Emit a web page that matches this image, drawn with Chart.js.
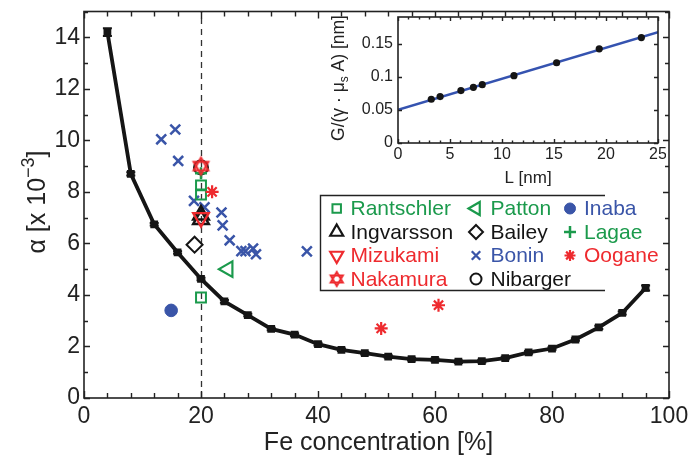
<!DOCTYPE html>
<html><head><meta charset="utf-8">
<style>
html,body{margin:0;padding:0;background:#fff;}
#wrap{position:relative;width:689px;height:457px;overflow:hidden;}
#main{position:absolute;left:0;top:0;}
#inset{position:absolute;left:320px;top:0;}
</style>
<script src="https://cdn.jsdelivr.net/npm/chart.js@4.4.1/dist/chart.umd.min.js"></script>
</head><body>
<div id="wrap"><canvas id="main" width="689" height="457"></canvas><canvas id="inset" width="346" height="195"></canvas></div>
<script>
// ---------- main plot data ----------
const feConc   = [4,8,12,16,20,24,28,32,36,40,44,48,52,56,60,64,68,72,76,80,84,88,92,96];
const alphaSim = [14.2,8.7,6.74,5.65,4.62,3.75,3.22,2.68,2.46,2.09,1.87,1.74,1.61,1.51,1.48,1.41,1.43,1.55,1.77,1.92,2.27,2.74,3.3,4.27];
const alphaErr = [0.15,0.06,0.05,0.05,0.05,0.05,0.05,0.05,0.05,0.05,0.05,0.05,0.05,0.05,0.05,0.05,0.05,0.05,0.05,0.05,0.05,0.06,0.06,0.1];

const rantschlerX = [20,20,20];        const rantschlerY = [8.25,7.9,3.9];
const pattonX     = [24.6];            const pattonY     = [5.0];
const inabaX      = [14.9];            const inabaY      = [3.4];
const ingvarssonX = [20,20];           const ingvarssonY = [7.1,6.93];
const baileyX     = [18.9];            const baileyY     = [5.95];
const lagaeX      = [20];              const lagaeY      = [8.72];
const mizukamiX   = [20];              const mizukamiY   = [7.0];
const boninX = [13.2,15.6,16.1,18.8,20.6,23.5,23.7,24.9,26.9,27.6,28.9,29.4,38.1];
const boninY = [10.04,10.42,9.2,7.65,7.4,7.2,6.7,6.12,5.7,5.7,5.8,5.58,5.69];
const ooganeX     = [21.9,50.8,60.6];  const ooganeY     = [8.0,2.7,3.6];
const nakamuraX   = [20];              const nakamuraY   = [9.0];
const nibargerX   = [20];              const nibargerY   = [8.95];

const xTickVals = [0,20,40,60,80,100];
const yTickVals = [0,2,4,6,8,10,12,14];
const xTitle = 'Fe concentration [%]';

// ---------- inset data ----------
const insetL = [3.2,4.05,6.05,7.25,8.1,11.15,15.25,19.35,23.4];
const insetG = [0.066,0.070,0.079,0.084,0.088,0.1015,0.121,0.142,0.159];
const fitL = [0,25];
const fitG = [0.05,0.1672];
const insetXTicks = [0,5,10,15,20,25];
const insetYTicks = [0,0.05,0.1,0.15];
const insetYLabels = ['0','0.05','0.1','0.15'];
const insetXTitle = 'L [nm]';

// ---------- styles ----------
const FONT = "'Liberation Sans', Arial, Helvetica, sans-serif";
const GREEN = '#1b9a4c', RED = '#ee2a2e', BLUE = '#3a55a8', BLACK = '#151515', AX = '#222';

function makeHexagram(r, color, lw) {
  const s = Math.ceil(2 * (r + lw + 1));
  const c = document.createElement('canvas'); c.width = s; c.height = s;
  const g = c.getContext('2d');
  g.strokeStyle = color; g.lineWidth = lw; g.lineJoin = 'miter';
  [0, 180].forEach(rot => {
    g.beginPath();
    for (let k = 0; k < 3; k++) {
      const a = (rot * Math.PI / 180) + k * 2 * Math.PI / 3;
      const px = s / 2 + Math.sin(a) * r, py = s / 2 - Math.cos(a) * r;
      if (k === 0) g.moveTo(px, py); else g.lineTo(px, py);
    }
    g.closePath(); g.stroke();
  });
  return c;
}
const hexBig = makeHexagram(8.5, RED, 2);
const hexSmall = makeHexagram(7, RED, 2);

const pts = (xs, ys) => xs.map((x, i) => ({x, y: ys[i]}));
const clear = 'rgba(0,0,0,0)';

// datasets listed in legend order (row-major); 'order' controls drawing
const datasets = [
  {label:'Rantschler', data: pts(rantschlerX, rantschlerY), pointStyle:'rect', pointRadius:7, borderColor:GREEN, backgroundColor:clear, pointBorderWidth:2, order:12, lg:{style:'rect', r:6, lw:2, color:GREEN}},
  {label:'Patton', data: pts(pattonX, pattonY), pointStyle:'triangle', rotation:-90, pointRadius:9, borderColor:GREEN, backgroundColor:clear, pointBorderWidth:2.2, order:10, lg:{style:'triangle', rotation:-90, r:7.5, lw:2.2, color:GREEN}},
  {label:'Inaba', data: pts(inabaX, inabaY), pointStyle:'circle', pointRadius:6.3, borderColor:BLUE, backgroundColor:BLUE, pointBorderWidth:1, order:10, lg:{style:'circle', r:5.5, lw:1, color:BLUE, fill:BLUE}},
  {label:'Ingvarsson', data: pts(ingvarssonX, ingvarssonY), pointStyle:'triangle', pointRadius:9, borderColor:BLACK, backgroundColor:clear, pointBorderWidth:2.5, order:13, lg:{style:'triangle', r:7.5, lw:2.2, color:BLACK}},
  {label:'Bailey', data: pts(baileyX, baileyY), pointStyle:'rectRot', pointRadius:8, borderColor:BLACK, backgroundColor:clear, pointBorderWidth:2, order:10, lg:{style:'rectRot', r:7, lw:2, color:BLACK}},
  {label:'Lagae', data: pts(lagaeX, lagaeY), pointStyle:'cross', pointRadius:6, borderColor:GREEN, backgroundColor:clear, pointBorderWidth:2.5, order:11, lg:{style:'cross', r:6, lw:2.5, color:GREEN}},
  {label:'Mizukami', data: pts(mizukamiX, mizukamiY), pointStyle:'triangle', rotation:180, pointRadius:9, borderColor:RED, backgroundColor:clear, pointBorderWidth:2.3, order:9, lg:{style:'triangle', rotation:180, r:7.5, lw:2.2, color:RED}},
  {label:'Bonin', data: pts(boninX, boninY), pointStyle:'crossRot', pointRadius:7, borderColor:BLUE, backgroundColor:clear, pointBorderWidth:2.5, order:15, lg:{style:'crossRot', r:6, lw:2.3, color:BLUE}},
  {label:'Oogane', data: pts(ooganeX, ooganeY), pointStyle:'star', pointRadius:6.5, borderColor:RED, backgroundColor:clear, pointBorderWidth:2.2, order:10, lg:{style:'star', r:5.5, lw:2.2, color:RED}},
  {label:'Nakamura', data: pts(nakamuraX, nakamuraY), pointStyle:hexBig, pointRadius:9, borderColor:RED, backgroundColor:clear, order:8, lg:{style:'hex', color:RED}},
  {label:'Nibarger', data: pts(nibargerX, nibargerY), pointStyle:'circle', pointRadius:7, borderColor:BLACK, backgroundColor:clear, pointBorderWidth:2, order:14, lg:{style:'circle', r:5.5, lw:2, color:BLACK}},
  {label:'model', data: pts(feConc, alphaSim), showLine:true, borderColor:BLACK, borderWidth:3.8, pointStyle:'rect', pointRadius:5.5, pointBackgroundColor:BLACK, pointBorderColor:BLACK, pointBorderWidth:0, tension:0, order:20, errs: alphaErr}
];

function drawMarker(ctx, m, x, y) {
  if (m.style === 'hex') { ctx.drawImage(hexSmall, x - hexSmall.width/2, y - hexSmall.height/2); return; }
  const r = m.r;
  ctx.save();
  ctx.translate(x, y);
  ctx.rotate((m.rotation || 0) * Math.PI / 180);
  ctx.lineWidth = m.lw; ctx.strokeStyle = m.color; ctx.fillStyle = m.fill || m.color;
  ctx.beginPath();
  if (m.style === 'rect') { const s = r * Math.SQRT1_2; ctx.rect(-s, -s, 2*s, 2*s); }
  else if (m.style === 'triangle') {
    for (let k = 0; k < 3; k++) { const a = k * 2 * Math.PI / 3; const px = Math.sin(a)*r, py = -Math.cos(a)*r; k ? ctx.lineTo(px, py) : ctx.moveTo(px, py); }
    ctx.closePath();
  }
  else if (m.style === 'rectRot') { ctx.moveTo(0,-r); ctx.lineTo(r,0); ctx.lineTo(0,r); ctx.lineTo(-r,0); ctx.closePath(); }
  else if (m.style === 'cross') { ctx.moveTo(0,-r); ctx.lineTo(0,r); ctx.moveTo(-r,0); ctx.lineTo(r,0); }
  else if (m.style === 'crossRot') { const d = r*Math.SQRT1_2; ctx.moveTo(-d,-d); ctx.lineTo(d,d); ctx.moveTo(-d,d); ctx.lineTo(d,-d); }
  else if (m.style === 'star') { const d = r*Math.SQRT1_2; ctx.moveTo(0,-r); ctx.lineTo(0,r); ctx.moveTo(-r,0); ctx.lineTo(r,0); ctx.moveTo(-d,-d); ctx.lineTo(d,d); ctx.moveTo(-d,d); ctx.lineTo(d,-d); }
  else if (m.style === 'circle') { ctx.arc(0, 0, r, 0, Math.PI*2); }
  if (m.fill) ctx.fill();
  ctx.stroke();
  ctx.restore();
}

function drawBoxAndTicks(ctx, chart, xs, ys) {
  const a = chart.chartArea, sx = chart.scales.x, sy = chart.scales.y;
  ctx.save();
  ctx.strokeStyle = AX; ctx.lineWidth = 1.4;
  ctx.beginPath();
  xs.forEach(t => { const p = Math.round(sx.getPixelForValue(t.v)) + 0.5;
    ctx.moveTo(p, a.bottom); ctx.lineTo(p, a.bottom - t.len);
    ctx.moveTo(p, a.top); ctx.lineTo(p, a.top + t.len); });
  ys.forEach(t => { const p = Math.round(sy.getPixelForValue(t.v)) + 0.5;
    ctx.moveTo(a.left, p); ctx.lineTo(a.left + t.len, p);
    ctx.moveTo(a.right, p); ctx.lineTo(a.right - t.len, p); });
  ctx.stroke();
  ctx.lineWidth = 1.6;
  ctx.strokeRect(a.left, a.top, a.right - a.left, a.bottom - a.top);
  ctx.restore();
}

const mainDecor = {
  id: 'mainDecor',
  beforeDatasetsDraw(chart) {
    const ctx = chart.ctx, a = chart.chartArea, sx = chart.scales.x;
    const px = Math.round(sx.getPixelForValue(20)) + 0.5;
    ctx.save(); ctx.strokeStyle = '#333'; ctx.lineWidth = 1.3; ctx.setLineDash([6, 5]);
    ctx.beginPath(); ctx.moveTo(px, a.bottom); ctx.lineTo(px, a.top); ctx.stroke(); ctx.restore();
  },
  afterDatasetsDraw(chart) {
    const ctx = chart.ctx, sx = chart.scales.x, sy = chart.scales.y, a = chart.chartArea;
    // error bars on the model curve
    const ds = chart.data.datasets.find(d => d.errs);
    ctx.save(); ctx.strokeStyle = BLACK; ctx.lineWidth = 2;
    ds.data.forEach((p, i) => {
      const e = ds.errs[i]; const x = sx.getPixelForValue(p.x);
      const y1 = sy.getPixelForValue(p.y - e), y2 = sy.getPixelForValue(p.y + e);
      ctx.beginPath(); ctx.moveTo(x, y1); ctx.lineTo(x, y2);
      ctx.moveTo(x - 4.5, y1); ctx.lineTo(x + 4.5, y1);
      ctx.moveTo(x - 4.5, y2); ctx.lineTo(x + 4.5, y2); ctx.stroke();
    });
    ctx.restore();
    // axes box + inward ticks
    const xt = []; for (let v = 0; v <= 100; v += 4) xt.push({v, len: (v % 20 === 0) ? 7 : 5});
    const yt = []; for (let v = 0; v <= 15; v += 1) yt.push({v, len: (v % 2 === 0) ? 6 : 4});
    drawBoxAndTicks(ctx, chart, xt, yt);
    // legend
    const L = {left: 320.5, top: 195.5, right: 605, bottom: 290.5};
    ctx.save();
    ctx.fillStyle = '#fff'; ctx.fillRect(L.left, L.top, L.right - L.left, L.bottom - L.top);
    ctx.strokeStyle = AX; ctx.lineWidth = 1.4;
    ctx.beginPath(); ctx.moveTo(L.right, L.top); ctx.lineTo(L.left, L.top); ctx.lineTo(L.left, L.bottom); ctx.lineTo(L.right, L.bottom); ctx.stroke();
    const colMarker = [336.7, 476, 570], colText = [350.5, 490.5, 584];
    const rowY = [208.5, 232, 255.5, 279];
    ctx.font = '21px ' + FONT; ctx.textBaseline = 'middle'; ctx.textAlign = 'left';
    chart.data.datasets.filter(d => d.lg).forEach((d, i) => {
      const r = Math.floor(i / 3), c = i % 3;
      drawMarker(ctx, d.lg, colMarker[c], rowY[r]);
      ctx.fillStyle = d.lg.color; ctx.fillText(d.label, colText[c], rowY[r] + 1);
    });
    ctx.restore();
    // axis titles
    ctx.save();
    ctx.fillStyle = AX; ctx.font = '25px ' + FONT; ctx.textAlign = 'center'; ctx.textBaseline = 'alphabetic';
    ctx.fillText(xTitle, (a.left + a.right) / 2 + 2, 450);
    // y title with superscript
    ctx.translate(45, 202); ctx.rotate(-Math.PI / 2);
    const f1 = '25px ' + FONT, f2 = '18px ' + FONT;
    const p1 = '\u03B1 [x 10', p2 = '\u22123', p3 = ']';
    ctx.font = f1; const w1 = ctx.measureText(p1).width, w3 = ctx.measureText(p3).width;
    ctx.font = f2; const w2 = ctx.measureText(p2).width;
    let x0 = -(w1 + w2 + w3) / 2;
    ctx.textAlign = 'left';
    ctx.font = f1; ctx.fillText(p1, x0, 0); x0 += w1;
    ctx.font = f2; ctx.fillText(p2, x0, -11); x0 += w2;
    ctx.font = f1; ctx.fillText(p3, x0, 0);
    ctx.restore();
  }
};

new Chart(document.getElementById('main'), {
  type: 'scatter',
  data: { datasets },
  options: {
    responsive: false, animation: false, devicePixelRatio: 1, events: [],
    layout: { padding: { left: 0, top: 6, right: 20, bottom: 0 } },
    plugins: { legend: { display: false }, tooltip: { enabled: false } },
    scales: {
      x: { type: 'linear', min: 0, max: 100,
           grid: { display: false, drawTicks: false }, border: { display: false },
           afterBuildTicks: s => { s.ticks = xTickVals.map(v => ({value: v})); },
           afterFit: s => { s.height = 59; s.paddingLeft = 0; s.paddingRight = 0; },
           ticks: { font: { family: FONT, size: 23 }, color: AX, padding: 5, maxRotation: 0, autoSkip: false, callback: v => String(v) } },
      y: { type: 'linear', min: 0, max: 15,
           grid: { display: false, drawTicks: false }, border: { display: false },
           afterBuildTicks: s => { s.ticks = yTickVals.map(v => ({value: v})); },
           afterFit: s => { s.width = 84; s.paddingTop = 0; s.paddingBottom = 0; },
           ticks: { font: { family: FONT, size: 23 }, color: AX, padding: 4, autoSkip: false, callback: v => String(v) } }
    }
  },
  plugins: [mainDecor]
});

// ---------- inset ----------
const insetDecor = {
  id: 'insetDecor',
  beforeDraw(chart) {
    const a = chart.chartArea, ctx = chart.ctx;
    ctx.save(); ctx.fillStyle = '#fff'; ctx.fillRect(a.left, a.top, a.right - a.left, a.bottom - a.top); ctx.restore();
  },
  afterDatasetsDraw(chart) {
    const ctx = chart.ctx, a = chart.chartArea;
    const xt = []; for (let v = 0; v <= 25; v += 1) xt.push({v, len: (v % 5 === 0) ? 4 : 2.5});
    const yt = insetYTicks.map(v => ({v, len: 4}));
    drawBoxAndTicks(ctx, chart, xt, yt);
    ctx.save();
    ctx.fillStyle = AX; ctx.font = '17px ' + FONT; ctx.textAlign = 'center'; ctx.textBaseline = 'alphabetic';
    ctx.fillText(insetXTitle, (a.left + a.right) / 2, 183);
    ctx.translate(23.5, (a.top + a.bottom) / 2 - 2); ctx.rotate(-Math.PI / 2);
    const f1 = '17.5px ' + FONT, f2 = '12px ' + FONT;
    const p1 = 'G/(\u03B3 \u00B7 \u03BC', p2 = 's', p3 = ' A) [nm]';
    ctx.font = f1; const w1 = ctx.measureText(p1).width, w3 = ctx.measureText(p3).width;
    ctx.font = f2; const w2 = ctx.measureText(p2).width;
    let x0 = -(w1 + w2 + w3) / 2; ctx.textAlign = 'left';
    ctx.font = f1; ctx.fillText(p1, x0, 0); x0 += w1;
    ctx.font = f2; ctx.fillText(p2, x0, 4); x0 += w2;
    ctx.font = f1; ctx.fillText(p3, x0, 0);
    ctx.restore();
  }
};

new Chart(document.getElementById('inset'), {
  type: 'scatter',
  data: { datasets: [
    { label: 'data', data: pts(insetL, insetG), pointStyle: 'circle', pointRadius: 3.6, backgroundColor: BLACK, borderColor: BLACK, pointBorderWidth: 0, order: 1 },
    { label: 'fit', data: pts(fitL, fitG), showLine: true, borderColor: '#3553b0', borderWidth: 2.5, pointRadius: 0, order: 2 }
  ] },
  options: {
    responsive: false, animation: false, devicePixelRatio: 1, events: [],
    layout: { padding: { left: 0, top: 17, right: 8, bottom: 0 } },
    plugins: { legend: { display: false }, tooltip: { enabled: false } },
    scales: {
      x: { type: 'linear', min: 0, max: 25,
           grid: { display: false, drawTicks: false }, border: { display: false },
           afterBuildTicks: s => { s.ticks = insetXTicks.map(v => ({value: v})); },
           afterFit: s => { s.height = 52; s.paddingLeft = 0; s.paddingRight = 0; },
           ticks: { font: { family: FONT, size: 16 }, color: AX, padding: 2, maxRotation: 0, autoSkip: false, callback: v => String(v) } },
      y: { type: 'linear', min: 0, max: 0.19,
           grid: { display: false, drawTicks: false }, border: { display: false },
           afterBuildTicks: s => { s.ticks = insetYTicks.map(v => ({value: v})); },
           afterFit: s => { s.width = 78; s.paddingTop = 0; s.paddingBottom = 0; },
           ticks: { font: { family: FONT, size: 16 }, color: AX, padding: 5, autoSkip: false,
                    callback: (v, i) => insetYLabels[insetYTicks.indexOf(v)] } }
    }
  },
  plugins: [insetDecor]
});
</script>
</body></html>
